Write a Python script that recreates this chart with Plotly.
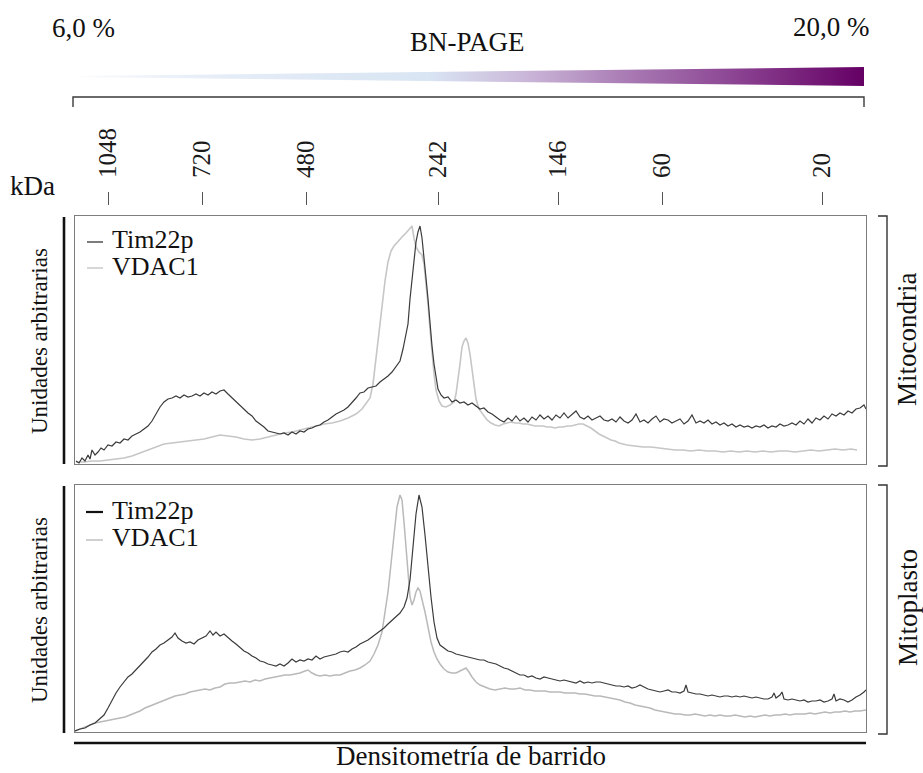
import plotly.graph_objects as go

W, H = 923, 773
SERIF = '"Liberation Serif", "DejaVu Serif", "Times New Roman", serif'

# ---------------------------------------------------------------- data
# BN-PAGE gradient limits (%)
gel_percent = [6.0, 20.0]

# Molecular-weight markers along the scan (scan position, kDa label)
kda_labels = ["1048", "720", "480", "242", "146", "60", "20"]
kda_pos = [108, 202, 306, 438, 558, 662, 822]

scan_range = [75, 866]

# Densitometry profiles: (scan position, arbitrary units)
mito_tim22p = [
    (76, 3), (79, 1), (82, 6), (85, 3), (88, 9), (90, 5), (92, 14), (95, 9), (98, 12), (101, 16),
    (104, 14), (108, 19), (112, 18), (116, 22), (120, 21), (124, 25), (128, 24), (132, 28), (136, 30),
    (140, 32), (144, 35), (148, 38), (152, 43), (156, 50), (160, 57), (164, 62), (168, 65), (172, 66),
    (176, 68), (180, 66), (184, 69), (188, 67), (192, 68), (196, 70), (200, 68), (204, 71), (208, 69),
    (212, 72), (216, 70), (220, 73), (224, 74), (228, 70), (232, 66), (236, 63), (240, 59), (244, 55),
    (248, 51), (252, 48), (256, 43), (260, 40), (264, 37), (268, 33), (272, 32), (276, 31), (280, 30),
    (284, 31), (288, 29), (292, 32), (296, 30), (300, 33), (304, 32), (308, 35), (312, 36), (316, 38),
    (320, 39), (324, 42), (328, 44), (332, 47), (336, 50), (340, 52), (344, 54), (348, 57), (352, 61),
    (356, 66), (360, 71), (364, 72), (368, 76), (372, 77), (376, 78), (380, 82), (384, 85), (388, 88),
    (392, 92), (396, 97), (400, 103), (403, 115), (406, 128), (408, 140), (410, 165), (412, 185),
    (414, 205), (416, 222), (418, 232), (420, 238), (422, 226), (424, 208), (426, 186), (428, 165),
    (430, 140), (432, 118), (434, 100), (436, 86), (438, 75), (441, 69), (444, 66), (448, 67), (452, 62),
    (456, 64), (460, 61), (464, 62), (468, 59), (472, 61), (476, 58), (480, 55), (484, 56), (488, 52),
    (492, 50), (496, 47), (500, 44), (504, 42), (508, 46), (512, 43), (516, 48), (520, 43), (524, 46),
    (528, 42), (532, 47), (536, 44), (540, 49), (544, 45), (548, 48), (552, 44), (556, 49), (560, 46),
    (564, 51), (568, 46), (572, 50), (576, 53), (580, 47), (584, 45), (588, 48), (592, 44), (596, 46),
    (600, 48), (604, 44), (608, 43), (612, 45), (616, 42), (620, 47), (624, 43), (628, 41), (632, 44),
    (636, 50), (640, 42), (644, 44), (648, 41), (652, 45), (656, 48), (660, 42), (664, 45), (668, 44),
    (672, 41), (676, 43), (680, 45), (684, 40), (688, 43), (692, 49), (696, 41), (700, 43), (704, 41),
    (708, 44), (712, 40), (716, 42), (720, 39), (724, 41), (728, 38), (732, 40), (736, 37), (740, 39),
    (744, 37), (748, 38), (752, 36), (756, 38), (760, 37), (764, 39), (768, 36), (772, 38), (776, 37),
    (780, 40), (784, 38), (788, 39), (792, 41), (796, 39), (800, 43), (804, 40), (808, 45), (812, 41),
    (816, 46), (820, 44), (824, 48), (828, 45), (832, 50), (836, 48), (840, 51), (844, 49), (848, 53),
    (852, 51), (856, 55), (860, 56), (864, 59), (866, 55),
]

mito_vdac1 = [
    (76, 2), (84, 2), (92, 3), (100, 3), (108, 4), (116, 5), (124, 6), (132, 8), (140, 11), (148, 14),
    (156, 17), (164, 20), (172, 21), (180, 22), (188, 23), (196, 24), (204, 25), (212, 27), (220, 29),
    (228, 28), (236, 27), (244, 25), (252, 24), (260, 25), (268, 27), (276, 29), (284, 31), (292, 32),
    (300, 34), (308, 36), (316, 38), (324, 40), (332, 41), (340, 43), (348, 46), (356, 50), (362, 55),
    (366, 60), (370, 66), (373, 80), (376, 105), (379, 133), (382, 160), (385, 183), (388, 202),
    (391, 213), (394, 218), (398, 223), (402, 227), (406, 231), (409, 234), (412, 238), (414, 226),
    (416, 217), (419, 212), (422, 209), (424, 200), (426, 182), (428, 160), (430, 135), (432, 110),
    (434, 90), (436, 74), (439, 63), (442, 58), (446, 57), (450, 59), (454, 62), (456, 70), (458, 83),
    (460, 100), (462, 117), (464, 123), (466, 126), (468, 121), (470, 110), (472, 95), (474, 78),
    (476, 65), (479, 55), (483, 49), (487, 44), (491, 41), (495, 39), (499, 38), (503, 40), (507, 41),
    (511, 42), (515, 41), (519, 41), (523, 40), (527, 40), (531, 39), (535, 38), (539, 38), (543, 38),
    (547, 37), (551, 37), (555, 36), (559, 37), (563, 37), (567, 38), (571, 38), (575, 39), (579, 40),
    (583, 40), (587, 38), (591, 36), (595, 33), (599, 30), (603, 28), (607, 26), (611, 24), (615, 23),
    (619, 21), (623, 20), (627, 19), (635, 18), (643, 17), (651, 17), (659, 16), (667, 15), (675, 14),
    (683, 14), (691, 13), (699, 14), (707, 13), (715, 13), (723, 12), (731, 13), (739, 12), (747, 13),
    (755, 12), (763, 13), (771, 12), (779, 13), (787, 13), (795, 12), (803, 13), (811, 14), (819, 13),
    (827, 14), (835, 15), (843, 14), (851, 15), (857, 14),
]

mitoplast_tim22p = [
    (75, 1), (80, 3), (85, 4), (90, 7), (95, 9), (100, 13), (104, 17), (108, 24), (112, 32), (116, 39),
    (120, 45), (124, 50), (128, 55), (132, 58), (136, 62), (140, 66), (144, 70), (148, 75), (152, 80),
    (156, 83), (160, 87), (164, 89), (168, 92), (172, 95), (175, 99), (178, 94), (182, 91), (186, 89),
    (190, 90), (194, 88), (198, 92), (202, 94), (206, 96), (210, 101), (213, 97), (216, 100), (220, 96),
    (224, 98), (228, 94), (232, 91), (236, 88), (240, 84), (244, 81), (248, 79), (252, 76), (256, 74),
    (260, 71), (264, 70), (268, 68), (272, 67), (276, 66), (280, 68), (284, 66), (288, 69), (292, 73),
    (296, 70), (300, 72), (304, 71), (308, 73), (312, 72), (316, 76), (320, 73), (324, 75), (328, 76),
    (332, 77), (336, 78), (340, 80), (344, 81), (348, 80), (352, 83), (356, 85), (360, 88), (364, 90),
    (368, 92), (372, 95), (376, 98), (380, 101), (384, 104), (388, 108), (392, 112), (396, 115),
    (400, 119), (404, 125), (407, 134), (410, 152), (413, 186), (416, 218), (419, 237), (422, 225),
    (425, 197), (428, 165), (431, 135), (434, 110), (437, 94), (440, 87), (444, 84), (448, 81),
    (452, 80), (456, 78), (460, 77), (464, 76), (468, 75), (472, 74), (476, 73), (480, 72), (484, 72),
    (488, 70), (492, 69), (496, 68), (500, 66), (504, 64), (508, 63), (512, 61), (516, 59), (520, 57),
    (524, 57), (528, 55), (532, 56), (536, 54), (540, 53), (544, 55), (548, 54), (552, 53), (556, 52),
    (560, 51), (564, 52), (568, 51), (572, 50), (576, 49), (580, 51), (584, 49), (588, 50), (592, 49),
    (596, 50), (600, 50), (604, 49), (608, 48), (612, 47), (616, 46), (620, 46), (624, 45), (628, 46),
    (632, 44), (636, 45), (640, 47), (644, 45), (648, 43), (652, 42), (656, 41), (660, 40), (664, 41),
    (668, 42), (672, 40), (676, 40), (680, 39), (684, 41), (686, 47), (688, 40), (692, 39), (696, 38),
    (700, 38), (704, 37), (708, 36), (712, 37), (716, 36), (720, 35), (724, 36), (728, 36), (732, 35),
    (736, 36), (740, 35), (744, 36), (748, 35), (752, 34), (756, 35), (760, 34), (764, 33), (768, 33),
    (772, 35), (774, 39), (776, 34), (780, 37), (782, 40), (784, 33), (788, 32), (792, 33), (796, 32),
    (800, 31), (804, 32), (808, 30), (812, 31), (816, 31), (820, 32), (824, 30), (828, 31), (832, 33),
    (834, 38), (836, 31), (840, 33), (844, 32), (848, 30), (852, 32), (856, 35), (860, 37), (864, 40),
    (866, 42),
]

mitoplast_vdac1 = [
    (75, 1), (80, 3), (85, 5), (90, 7), (95, 9), (100, 10), (105, 11), (110, 12), (115, 13), (120, 14),
    (125, 15), (130, 17), (135, 19), (140, 21), (145, 24), (150, 26), (155, 28), (160, 30), (165, 32),
    (170, 34), (175, 36), (180, 37), (185, 38), (190, 40), (195, 41), (200, 42), (205, 43), (210, 42),
    (215, 44), (220, 45), (225, 48), (230, 49), (235, 49), (240, 50), (245, 51), (250, 50), (255, 52),
    (260, 51), (265, 53), (270, 54), (275, 55), (280, 56), (285, 57), (290, 57), (295, 58), (300, 59),
    (305, 61), (308, 62), (312, 59), (316, 57), (320, 56), (325, 57), (330, 56), (335, 57), (340, 57),
    (345, 59), (350, 61), (355, 62), (360, 64), (365, 67), (370, 71), (374, 78), (378, 87), (382, 100),
    (385, 118), (388, 140), (391, 168), (394, 200), (397, 225), (400, 237), (402, 232), (404, 210),
    (406, 182), (408, 158), (410, 135), (412, 127), (414, 132), (416, 140), (418, 144), (420, 141),
    (422, 133), (425, 120), (428, 105), (431, 90), (434, 80), (437, 73), (440, 68), (444, 63),
    (448, 60), (452, 59), (456, 59), (460, 61), (463, 63), (466, 64), (469, 60), (472, 55), (476, 50),
    (480, 47), (485, 45), (490, 43), (495, 42), (500, 43), (505, 44), (510, 43), (515, 43), (520, 44),
    (525, 42), (530, 42), (535, 41), (540, 41), (545, 41), (550, 40), (555, 40), (560, 40), (565, 39),
    (570, 39), (575, 39), (580, 38), (585, 38), (590, 37), (595, 36), (600, 36), (605, 35), (610, 34),
    (615, 33), (620, 32), (625, 30), (630, 29), (635, 27), (640, 26), (645, 25), (650, 24), (655, 22),
    (660, 21), (665, 20), (670, 19), (675, 18), (680, 18), (685, 17), (690, 17), (695, 18), (700, 17),
    (705, 16), (710, 17), (715, 16), (720, 17), (725, 16), (730, 16), (735, 17), (740, 16), (745, 15),
    (750, 16), (755, 15), (760, 16), (765, 17), (770, 16), (775, 17), (780, 17), (785, 18), (790, 17),
    (795, 18), (800, 18), (805, 18), (810, 19), (815, 18), (820, 19), (825, 20), (830, 19), (835, 20),
    (840, 20), (845, 21), (850, 20), (855, 21), (860, 21), (866, 22),
]

# ---------------------------------------------------------------- helpers
def fx(x):
    return x / W


def fy(y):
    return 1 - y / H


def profile(series, color, width, xa, ya):
    pos = [p for p, _ in series]
    val = [v for _, v in series]
    return go.Scatter(x=pos, y=val, mode="lines", line=dict(color=color, width=width),
                      xaxis=xa, yaxis=ya, showlegend=False, hoverinfo="skip")


DARK = "#3b3b3b"
LIGHT = "#c6c6c6"

fig = go.Figure()

fig.add_trace(profile(mito_vdac1, LIGHT, 1.6, "x", "y"))
fig.add_trace(profile(mito_tim22p, DARK, 1.2, "x", "y"))
fig.add_trace(profile(mitoplast_vdac1, "#b9b9b9", 1.5, "x2", "y2"))
fig.add_trace(profile(mitoplast_tim22p, DARK, 1.2, "x2", "y2"))

# kDa marker axis carrier
fig.add_trace(go.Scatter(x=kda_pos, y=[None] * len(kda_pos), mode="markers",
                         xaxis="x3", yaxis="y", showlegend=False, hoverinfo="skip"))

# BN-PAGE acrylamide gradient wedge
g0, g1 = gel_percent
fig.add_trace(go.Scatter(
    x=[g0, g1, g1, g0, g0], y=[-0.05, -0.95, 0.95, 0.05, -0.05],
    mode="lines", line=dict(width=0), fill="toself",
    fillgradient=dict(type="horizontal", colorscale=[
        [0.0, "#ffffff"], [0.04, "#f4f7fb"], [0.2, "#e4ecf7"], [0.45, "#d9e5f3"],
        [0.57, "#cbb8d9"], [0.70, "#a97bb4"], [0.83, "#8d4794"], [1.0, "#650065"]]),
    xaxis="x4", yaxis="y4", showlegend=False, hoverinfo="skip"))

frame = dict(showline=True, mirror=True, linecolor="#7d7d7d", linewidth=1.2,
             showgrid=False, zeroline=False, showticklabels=False, ticks="")
hidden = dict(visible=False, showgrid=False, zeroline=False)

top_y = [fy(464), fy(216)]
bot_y = [fy(732), fy(485)]
x_dom = [fx(75), fx(866)]

fig.update_layout(
    width=W, height=H, margin=dict(l=0, r=0, t=0, b=0),
    paper_bgcolor="white", plot_bgcolor="white",
    font=dict(family=SERIF, color="#111111"),
    xaxis=dict(domain=x_dom, range=scan_range, anchor="y", **frame),
    yaxis=dict(domain=top_y, range=[0, 248], anchor="x", **frame),
    xaxis2=dict(domain=x_dom, range=scan_range, anchor="y2", **frame),
    yaxis2=dict(domain=bot_y, range=[0, 247], anchor="x2", **frame),
    xaxis3=dict(overlaying="x", anchor="free", position=fy(205), side="top",
                range=scan_range, tickmode="array", tickvals=kda_pos, ticktext=kda_labels,
                tickangle=-90, ticks="outside", ticklen=13, tickwidth=1.4, tickcolor="#555555",
                ticklabelstandoff=9, showline=False, showgrid=False, zeroline=False,
                tickfont=dict(family=SERIF, size=25, color="#1a1a1a")),
    xaxis4=dict(domain=[fx(73), fx(864)], range=gel_percent, anchor="y4", **hidden),
    yaxis4=dict(domain=[fy(86.5), fy(66.5)], range=[-1, 1], anchor="x4", **hidden),
)

# ---------------------------------------------------------------- decorations
shapes = []


def seg(x0, y0, x1, y1, color, width):
    shapes.append(dict(type="line", xref="paper", yref="paper",
                       x0=fx(x0), y0=fy(y0), x1=fx(x1), y1=fy(y1),
                       line=dict(color=color, width=width)))


def bracket(points, color, width):
    d = "M " + " L ".join(f"{fx(a):.5f},{fy(b):.5f}" for a, b in points)
    shapes.append(dict(type="path", xref="paper", yref="paper", path=d,
                       line=dict(color=color, width=width)))


# gradient bracket
bracket([(73, 107), (73, 97), (864, 97), (864, 107)], "#3a3a3a", 1.4)
# left axis bars
seg(64, 217, 64, 464, "#111111", 2.6)
seg(64, 486, 64, 733, "#111111", 2.6)
# scan axis bar
seg(74, 743, 866, 743, "#111111", 2.6)
# right-hand sample brackets
bracket([(878, 216), (887, 216), (887, 466), (878, 466)], "#333333", 1.4)
bracket([(878, 485), (887, 485), (887, 734), (878, 734)], "#333333", 1.4)
# legend keys
seg(87, 242, 103, 242, "#444444", 1.4)
seg(87, 268, 103, 268, "#cccccc", 1.6)
seg(86, 512, 103, 512, "#111111", 2.2)
seg(86, 540, 103, 540, "#c4c4c4", 1.6)

fig.update_layout(shapes=shapes)

ann = []


def text(s, x, y, size, angle=0, xanchor="center", color="#111111"):
    ann.append(dict(text=s, x=fx(x), y=fy(y), xref="paper", yref="paper",
                    showarrow=False, textangle=angle, xanchor=xanchor, yanchor="middle",
                    font=dict(family=SERIF, size=size, color=color)))


text("6,0 %", 83, 28, 27)
text("BN-PAGE", 467, 42, 27)
text("20,0 %", 831, 27, 27)
text("kDa", 32, 186, 27)
text("Unidades arbitrarias", 39, 341, 23, angle=-90)
text("Unidades arbitrarias", 39, 610, 23, angle=-90)
text("Mitocondria", 907, 340, 27, angle=-90)
text("Mitoplasto", 908, 608, 27, angle=-90)
text("Densitometría de barrido", 471, 756, 27)
text("Tim22p", 110, 240, 26, xanchor="left")
text("VDAC1", 110, 267, 26, xanchor="left")
text("Tim22p", 110, 510, 26, xanchor="left")
text("VDAC1", 110, 537, 26, xanchor="left")

fig.update_layout(annotations=ann)

fig.write_html("out.html")
